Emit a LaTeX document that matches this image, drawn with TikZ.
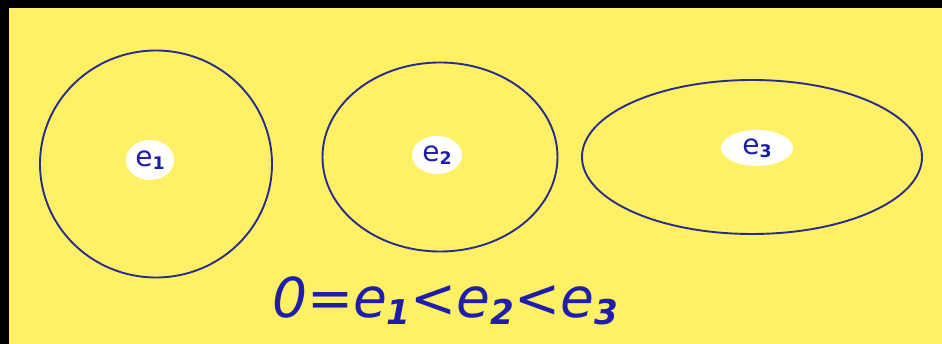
\documentclass[tikz,border=0pt]{standalone}
\usepackage{fontspec}
\setmainfont{DejaVu Sans}
\usetikzlibrary{shapes.geometric}
\definecolor{bgyellow}{RGB}{255,240,102}
\definecolor{rimblue}{RGB}{40,45,140}
\definecolor{txtblue}{RGB}{30,30,170}
\newcommand{\sub}[1]{\raisebox{-0.12em}{\fontsize{0.62em}{1em}\selectfont\bfseries #1}}
\tikzset{
  orbit/.style={ellipse,draw=rimblue,line width=1.9pt,inner sep=0pt,outer sep=0pt},
  blob/.style={ellipse,fill=white,text=txtblue,inner sep=1pt,font=\fontsize{28}{30}\selectfont},
}
\begin{document}
\begin{tikzpicture}[x=1pt,y=-1pt]
        \useasboundingbox(0,0)rectangle(942,344);
        \fill(0,0)rectangle(942,344);
        \fill[bgyellow](9,8)rectangle(942,344);
        \node[orbit,minimum width=232pt,minimum height=227pt](c1)at(156,164){};
        \node[orbit,minimum width=235pt,minimum height=189pt](c2)at(440,157){};
        \node[orbit,minimum width=340pt,minimum height=154pt](c3)at(752,157){};
        \node[blob,minimum width=48pt,minimum height=40pt](e1)at(150,160){e\sub{1}};
        \node[blob,minimum width=50pt,minimum height=38pt](e2)at(437,155){e\sub{2}};
        \node[blob,minimum width=72pt,minimum height=36pt](e3)at(757,148){e\sub{3}};
        \node[text=txtblue,anchor=base,font=\fontsize{55}{60}\selectfont\itshape](rel)at(445,318)
          {0=e\sub{1}<e\sub{2}<e\sub{3}};
\end{tikzpicture}
\end{document}
